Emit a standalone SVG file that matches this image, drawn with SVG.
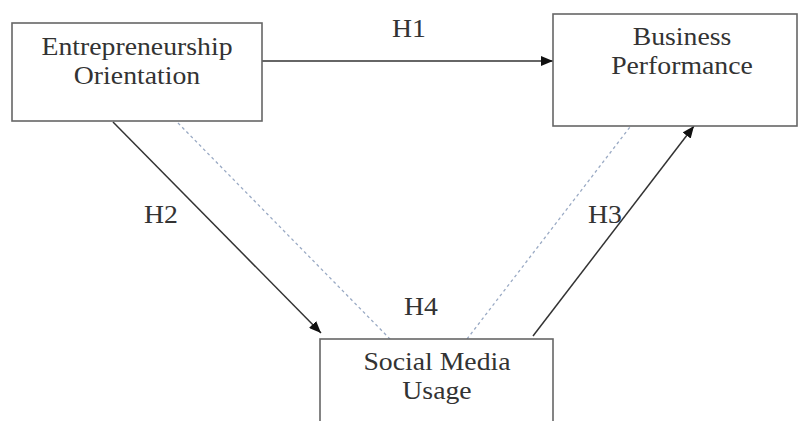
<svg xmlns="http://www.w3.org/2000/svg" width="799" height="421" viewBox="0 0 799 421">
<defs>
<marker id="ah" viewBox="0 0 12 10" refX="12" refY="5" markerWidth="12" markerHeight="10" markerUnits="userSpaceOnUse" orient="auto">
<path d="M0,0 L12,5 L0,10 z" fill="#111"/>
</marker>
</defs>
<rect width="799" height="421" fill="#fff"/>
<g id="connectors">
<g stroke="#333" stroke-width="1.5" fill="none">
<line x1="262" y1="61" x2="553" y2="61" marker-end="url(#ah)"/>
<line x1="113" y1="122" x2="321" y2="333" marker-end="url(#ah)"/>
<line x1="533" y1="336" x2="694" y2="126" marker-end="url(#ah)"/>
</g>
<g stroke="#9aaac4" stroke-width="1.3" stroke-dasharray="3 3" fill="none">
<line x1="178" y1="123" x2="390" y2="339"/>
<line x1="467" y1="339" x2="630" y2="127"/>
</g>
<text font-family="Liberation Serif" font-size="25" fill="#333" text-anchor="middle" transform="matrix(1.11 0 0 1 409 37)">H1</text>
<text font-family="Liberation Serif" font-size="25" fill="#333" text-anchor="middle" transform="matrix(1.11 0 0 1 161 223)">H2</text>
<text font-family="Liberation Serif" font-size="25" fill="#333" text-anchor="middle" transform="matrix(1.11 0 0 1 605 223)">H3</text>
<text font-family="Liberation Serif" font-size="25" fill="#333" text-anchor="middle" transform="matrix(1.11 0 0 1 421 315)">H4</text>
</g>
<g id="entrepreneurship-orientation">
<rect x="12" y="23" width="250" height="98" fill="#fff" stroke="#666" stroke-width="1.6"/>
<text font-family="Liberation Serif" font-size="25" fill="#333" text-anchor="middle" transform="matrix(1.11 0 0 1 137 55)">Entrepreneurship</text>
<text font-family="Liberation Serif" font-size="25" fill="#333" text-anchor="middle" transform="matrix(1.11 0 0 1 137 84)">Orientation</text>
</g>
<g id="business-performance">
<rect x="553" y="14" width="244" height="112" fill="#fff" stroke="#666" stroke-width="1.6"/>
<text font-family="Liberation Serif" font-size="25" fill="#333" text-anchor="middle" transform="matrix(1.11 0 0 1 682 45)">Business</text>
<text font-family="Liberation Serif" font-size="25" fill="#333" text-anchor="middle" transform="matrix(1.11 0 0 1 682 74)">Performance</text>
</g>
<g id="social-media-usage">
<rect x="320" y="339" width="233" height="100" fill="#fff" stroke="#666" stroke-width="1.6"/>
<text font-family="Liberation Serif" font-size="25" fill="#333" text-anchor="middle" transform="matrix(1.11 0 0 1 437 370)">Social Media</text>
<text font-family="Liberation Serif" font-size="25" fill="#333" text-anchor="middle" transform="matrix(1.11 0 0 1 437 399)">Usage</text>
</g>
</svg>
